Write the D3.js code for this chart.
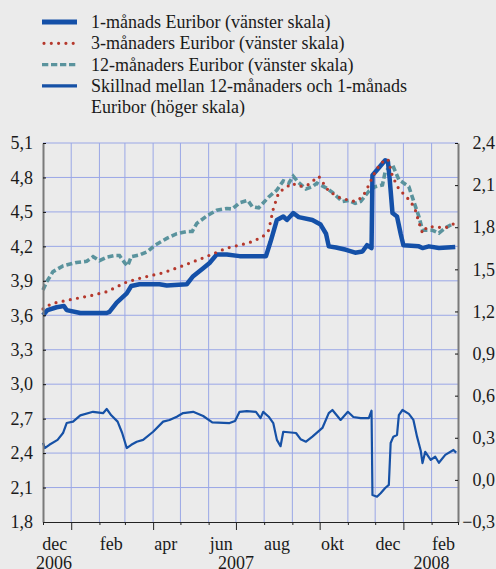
<!DOCTYPE html>
<html>
<head>
<meta charset="utf-8">
<script src="https://cdn.jsdelivr.net/npm/d3@7"></script>
<style>
  body { margin: 0; background: #ebebeb; }
  svg { display: block; }
</style>
</head>
<body>
<div id="chart"></div>
<script>
// 1-månads Euribor (vänster skala)
const euribor1m = [
  ['2006-12-01', 3.60], ['2006-12-06', 3.645], ['2006-12-16', 3.67], ['2006-12-24', 3.68],
  ['2006-12-27', 3.645], ['2007-01-11', 3.62], ['2007-02-09', 3.62], ['2007-02-12', 3.63],
  ['2007-02-20', 3.71], ['2007-03-03', 3.79], ['2007-03-08', 3.855], ['2007-03-17', 3.87],
  ['2007-04-08', 3.87], ['2007-04-16', 3.86], ['2007-05-08', 3.87], ['2007-05-15', 3.94],
  ['2007-05-26', 4.01], ['2007-06-02', 4.055], ['2007-06-10', 4.13], ['2007-06-21', 4.13],
  ['2007-07-05', 4.115], ['2007-08-03', 4.115], ['2007-08-08', 4.24], ['2007-08-15', 4.43],
  ['2007-08-22', 4.46], ['2007-08-26', 4.43], ['2007-09-02', 4.49], ['2007-09-08', 4.455],
  ['2007-09-23', 4.43], ['2007-10-02', 4.39], ['2007-10-08', 4.31], ['2007-10-11', 4.20],
  ['2007-10-19', 4.19], ['2007-10-30', 4.17], ['2007-11-09', 4.145], ['2007-11-17', 4.155],
  ['2007-11-22', 4.21], ['2007-11-27', 4.185], ['2007-11-28', 4.82], ['2007-12-03', 4.865],
  ['2007-12-12', 4.95], ['2007-12-15', 4.94], ['2007-12-17', 4.78], ['2007-12-20', 4.49],
  ['2007-12-25', 4.46], ['2007-12-29', 4.31], ['2008-01-01', 4.21], ['2008-01-18', 4.20],
  ['2008-01-22', 4.185], ['2008-01-29', 4.20], ['2008-02-09', 4.185], ['2008-02-27', 4.195]
]

// 3-månaders Euribor (vänster skala)
const euribor3m = [
  ['2006-12-01', 3.655], ['2006-12-10', 3.70], ['2006-12-27', 3.73], ['2007-01-22', 3.77],
  ['2007-02-09', 3.805], ['2007-03-03', 3.89], ['2007-03-21', 3.93], ['2007-04-12', 3.97],
  ['2007-04-30', 4.02], ['2007-05-26', 4.10], ['2007-06-21', 4.185], ['2007-07-15', 4.23],
  ['2007-07-30', 4.28], ['2007-08-06', 4.34], ['2007-08-11', 4.525], ['2007-08-17', 4.67],
  ['2007-09-01', 4.75], ['2007-09-08', 4.72], ['2007-09-18', 4.735], ['2007-09-30', 4.81],
  ['2007-10-11', 4.68], ['2007-10-24', 4.62], ['2007-11-09', 4.59], ['2007-11-17', 4.63],
  ['2007-11-22', 4.70], ['2007-11-29', 4.82], ['2007-12-07', 4.925], ['2007-12-15', 4.96],
  ['2007-12-20', 4.81], ['2007-12-27', 4.70], ['2008-01-09', 4.59], ['2008-01-14', 4.52],
  ['2008-01-18', 4.41], ['2008-01-22', 4.315], ['2008-01-27', 4.37], ['2008-02-05', 4.37],
  ['2008-02-16', 4.36], ['2008-02-25', 4.395]
]

// 12-månaders Euribor (vänster skala)
const euribor12m = [
  ['2006-12-01', 3.82], ['2006-12-05', 3.89], ['2006-12-12', 3.98], ['2006-12-23', 4.03],
  ['2007-01-07', 4.06], ['2007-01-18', 4.07], ['2007-01-25', 4.11], ['2007-02-01', 4.075],
  ['2007-02-09', 4.105], ['2007-02-18', 4.12], ['2007-02-23', 4.12], ['2007-03-01', 4.055],
  ['2007-03-04', 4.03], ['2007-03-08', 4.11], ['2007-03-17', 4.125], ['2007-03-26', 4.155],
  ['2007-04-03', 4.21], ['2007-04-16', 4.27], ['2007-04-27', 4.31], ['2007-05-08', 4.33],
  ['2007-05-14', 4.33], ['2007-05-19', 4.40], ['2007-05-30', 4.465], ['2007-06-10', 4.515],
  ['2007-06-21', 4.53], ['2007-06-27', 4.525], ['2007-07-05', 4.58], ['2007-07-14', 4.60],
  ['2007-07-19', 4.545], ['2007-07-26', 4.535], ['2007-08-06', 4.63], ['2007-08-15', 4.69],
  ['2007-08-22', 4.77], ['2007-08-28', 4.75], ['2007-09-02', 4.81], ['2007-09-08', 4.755],
  ['2007-09-16', 4.70], ['2007-09-23', 4.72], ['2007-09-28', 4.75], ['2007-10-08', 4.71],
  ['2007-10-15', 4.67], ['2007-10-26', 4.59], ['2007-11-02', 4.60], ['2007-11-09', 4.575],
  ['2007-11-15', 4.59], ['2007-11-24', 4.68], ['2007-12-01', 4.72], ['2007-12-09', 4.735],
  ['2007-12-12', 4.85], ['2007-12-20', 4.91], ['2007-12-27', 4.78], ['2008-01-07', 4.72],
  ['2008-01-12', 4.60], ['2008-01-18', 4.46], ['2008-01-22', 4.34], ['2008-02-02', 4.34],
  ['2008-02-09', 4.315], ['2008-02-16', 4.36], ['2008-02-25', 4.40]
]

// Skillnad mellan 12-månaders och 1-månads Euribor (höger skala)
const spread = [
  ['2006-12-01', 0.263], ['2006-12-03', 0.227], ['2006-12-08', 0.25], ['2006-12-17', 0.285],
  ['2006-12-23', 0.334], ['2006-12-27', 0.405], ['2007-01-03', 0.415], ['2007-01-11', 0.46],
  ['2007-01-25', 0.485], ['2007-02-05', 0.475], ['2007-02-09', 0.505], ['2007-02-14', 0.46],
  ['2007-02-21', 0.415], ['2007-02-26', 0.334], ['2007-03-03', 0.227], ['2007-03-08', 0.25],
  ['2007-03-14', 0.272], ['2007-03-21', 0.285], ['2007-04-01', 0.343], ['2007-04-12', 0.415],
  ['2007-04-19', 0.427], ['2007-04-27', 0.45], ['2007-05-04', 0.476], ['2007-05-15', 0.485],
  ['2007-05-26', 0.455], ['2007-06-05', 0.41], ['2007-06-24', 0.405], ['2007-06-30', 0.42],
  ['2007-07-05', 0.485], ['2007-07-13', 0.49], ['2007-07-23', 0.485], ['2007-07-28', 0.44],
  ['2007-07-31', 0.485], ['2007-08-06', 0.45], ['2007-08-11', 0.405], ['2007-08-15', 0.285],
  ['2007-08-19', 0.24], ['2007-08-22', 0.343], ['2007-09-05', 0.334], ['2007-09-10', 0.29],
  ['2007-09-16', 0.272], ['2007-09-23', 0.308], ['2007-10-04', 0.37], ['2007-10-11', 0.476],
  ['2007-10-15', 0.498], ['2007-10-24', 0.427], ['2007-11-01', 0.485], ['2007-11-07', 0.448],
  ['2007-11-15', 0.44], ['2007-11-24', 0.44], ['2007-11-27', 0.493], ['2007-11-28', -0.108],
  ['2007-12-03', -0.12], ['2007-12-07', -0.095], ['2007-12-12', -0.058], ['2007-12-16', -0.036],
  ['2007-12-18', 0.263], ['2007-12-21', 0.308], ['2007-12-25', 0.32], ['2007-12-27', 0.462],
  ['2007-12-31', 0.498], ['2008-01-07', 0.47], ['2008-01-12', 0.427], ['2008-01-16', 0.308],
  ['2008-01-20', 0.21], ['2008-01-22', 0.12], ['2008-01-25', 0.20], ['2008-01-31', 0.142],
  ['2008-02-05', 0.165], ['2008-02-09', 0.122], ['2008-02-16', 0.178], ['2008-02-25', 0.213],
  ['2008-02-28', 0.194]
]

const leftTicks = [1.8, 2.1, 2.4, 2.7, 3.0, 3.3, 3.6, 3.9, 4.2, 4.5, 4.8, 5.1]
const rightTicks = [-0.3, 0.0, 0.3, 0.6, 0.9, 1.2, 1.5, 1.8, 2.1, 2.4]
const monthLabels = [
  ['2006-12-14', 'dec'], ['2007-02-14', 'feb'], ['2007-04-15', 'apr'], ['2007-06-15', 'jun'],
  ['2007-08-15', 'aug'], ['2007-10-15', 'okt'], ['2007-12-15', 'dec'], ['2008-02-14', 'feb']
]
const yearLabels = [['2006-12-13', '2006'], ['2007-07-01', '2007'], ['2008-02-01', '2008']]
const legendItems = [
  '1-månads Euribor (vänster skala)',
  '3-månaders Euribor (vänster skala)',
  '12-månaders Euribor (vänster skala)',
  'Skillnad mellan 12-månaders och 1-månads',
  'Euribor (höger skala)'
]

const width = 496
const height = 569
const serif = '"Liberation Serif", "Times New Roman", Tinos, "DejaVu Serif", serif'
const textColor = '#1a1a1a'
const parse = d3.timeParse('%Y-%m-%d')
const sv = d3.formatLocale({ decimal: ',', thousands: ' ', grouping: [3], currency: ['', ' kr'] })
const fmt = sv.format('.1f')

const plotLeft = 43, plotRight = 458, plotTop = 143, plotBottom = 522

const x = d3.scaleTime()
  .domain([new Date(2006, 11, 1), new Date(2008, 2, 1)])
  .range([plotLeft, plotRight])
const yL = d3.scaleLinear().domain([1.8, 5.1]).range([plotBottom, plotTop])
const yR = d3.scaleLinear().domain([-0.3, 2.4]).range([plotBottom, plotTop])

const svg = d3.select('#chart').append('svg')
  .attr('width', width)
  .attr('height', height)
  .attr('font-family', serif)

svg.append('rect').attr('width', width).attr('height', height).attr('fill', '#ebebeb')

// grid
const gridColor = '#9aa7e6'
const monthStarts = d3.timeMonth.range(new Date(2007, 0, 1), new Date(2008, 2, 1))
svg.append('g').selectAll('line')
  .data(monthStarts)
  .join('line')
  .attr('x1', d => x(d)).attr('x2', d => x(d))
  .attr('y1', plotTop).attr('y2', plotBottom)
  .attr('stroke', gridColor).attr('stroke-width', 1)
svg.append('g').selectAll('line')
  .data(leftTicks.slice(1))
  .join('line')
  .attr('x1', plotLeft).attr('x2', plotRight)
  .attr('y1', d => yL(d)).attr('y2', d => yL(d))
  .attr('stroke', gridColor).attr('stroke-width', 1)

// series
const parsed = arr => arr.map(([d, v]) => ({ date: parse(d), value: v }))
const lineL = d3.line().x(d => x(d.date)).y(d => yL(d.value))
const lineR = d3.line().x(d => x(d.date)).y(d => yR(d.value))

svg.append('path')
  .datum(parsed(spread))
  .attr('d', lineR)
  .attr('fill', 'none').attr('stroke', '#1651a6').attr('stroke-width', 2.2)
  .attr('stroke-linejoin', 'round')

svg.append('path')
  .datum(parsed(euribor12m))
  .attr('d', lineL)
  .attr('fill', 'none').attr('stroke', '#5a939d').attr('stroke-width', 3.6)
  .attr('stroke-dasharray', '6 3')

svg.append('path')
  .datum(parsed(euribor1m))
  .attr('d', lineL)
  .attr('fill', 'none').attr('stroke', '#1450a8').attr('stroke-width', 4.5)
  .attr('stroke-linejoin', 'round')

svg.append('path')
  .datum(parsed(euribor3m))
  .attr('d', lineL)
  .attr('fill', 'none').attr('stroke', '#b5382c').attr('stroke-width', 3.2)
  .attr('stroke-linecap', 'round')
  .attr('stroke-dasharray', '0 7.3')

// left axis
const axL = svg.append('g')
  .attr('transform', `translate(${plotLeft},0)`)
  .call(d3.axisLeft(yL).tickValues(leftTicks).tickFormat(fmt).tickSize(0).tickPadding(10))
axL.attr('font-family', serif)
axL.select('.domain').attr('stroke', '#7a7a7a').attr('stroke-width', 2)
axL.selectAll('text').attr('font-size', 18).attr('fill', textColor)
axL.selectAll('.tick').append('line').attr('x1', 0).attr('x2', 3).attr('stroke', '#111')

// right axis, labels right-aligned at the edge
const axR = svg.append('g')
  .attr('transform', `translate(${plotRight},0)`)
  .call(d3.axisRight(yR).tickValues(rightTicks).tickFormat(fmt).tickSize(0))
axR.attr('font-family', serif)
axR.select('.domain').attr('stroke', '#7a7a7a').attr('stroke-width', 2)
axR.selectAll('text')
  .attr('x', 37)
  .attr('text-anchor', 'end')
  .attr('font-size', 18).attr('fill', textColor)
axR.selectAll('.tick').append('line').attr('x1', 0).attr('x2', -3).attr('stroke', '#111')

// bottom axis
const axB = svg.append('g')
  .attr('transform', `translate(0,${plotBottom})`)
  .call(d3.axisBottom(x)
    .tickValues(d3.timeMonth.range(new Date(2006, 11, 1), new Date(2008, 2, 2)))
    .tickFormat('')
    .tickSizeOuter(0))
axB.select('.domain').attr('stroke', '#222').attr('stroke-width', 1.2)
axB.selectAll('.tick line')
  .attr('stroke', '#222')
  .attr('y2', d => (d.getMonth() % 3 === 0 && d > x.domain()[0] && d < x.domain()[1]) ? 8 : 3)

svg.append('g').selectAll('text')
  .data(monthLabels)
  .join('text')
  .attr('x', d => x(parse(d[0])))
  .attr('y', 550)
  .attr('text-anchor', 'middle')
  .attr('font-size', 18).attr('fill', textColor)
  .text(d => d[1])

svg.append('g').selectAll('text')
  .data(yearLabels)
  .join('text')
  .attr('x', d => x(parse(d[0])))
  .attr('y', 569)
  .attr('text-anchor', 'middle')
  .attr('font-size', 18).attr('fill', textColor)
  .text(d => d[1])

// legend
const legend = svg.append('g')
const legendY = i => 22 + i * 21.3
const keys = [
  { w: 4.8, color: '#1450a8', dash: null, cap: 'butt' },
  { w: 3.2, color: '#b5382c', dash: '0 7.3', cap: 'round' },
  { w: 3.4, color: '#5a939d', dash: '6.3 2.7', cap: 'butt' },
  { w: 3.2, color: '#1651a6', dash: null, cap: 'butt' }
]
keys.forEach((k, i) => {
  legend.append('line')
    .attr('x1', k.cap === 'round' ? 44 : 42).attr('x2', 77)
    .attr('y1', legendY(i)).attr('y2', legendY(i))
    .attr('stroke', k.color).attr('stroke-width', k.w)
    .attr('stroke-linecap', k.cap)
    .attr('stroke-dasharray', k.dash)
})
legend.selectAll('text')
  .data(legendItems)
  .join('text')
  .attr('x', 91)
  .attr('y', (d, i) => legendY(i) + 6)
  .attr('font-size', 18).attr('fill', textColor)
  .text(d => d)
</script>
</body>
</html>
